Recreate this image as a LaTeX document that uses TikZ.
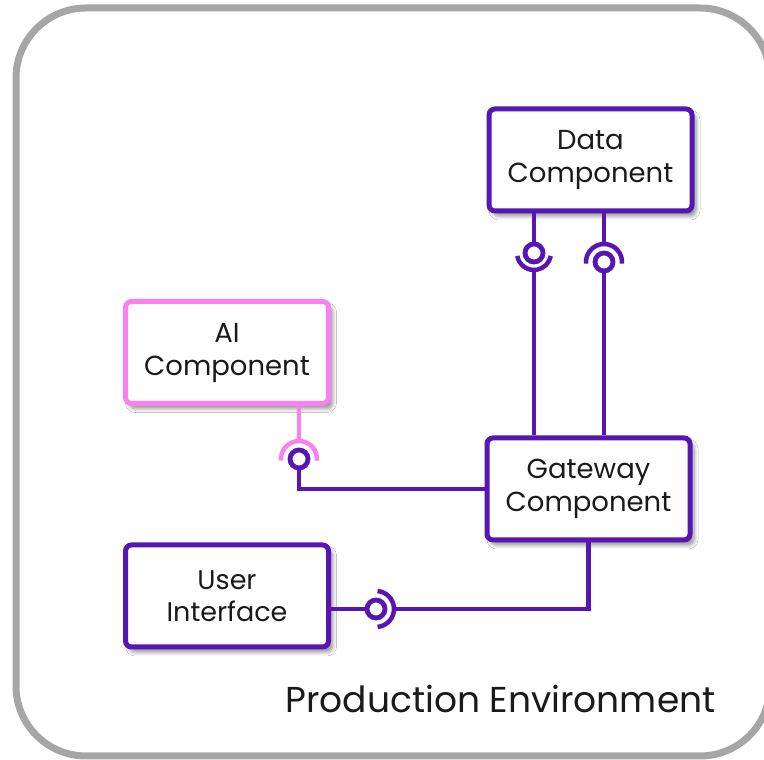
\documentclass[tikz,border=0pt]{standalone}
\usepackage{fontspec}
\setmainfont{Poppins}
\usetikzlibrary{shadows.blur}
\definecolor{compviolet}{HTML}{5716B4}
\definecolor{aipink}{HTML}{F880F0}
\definecolor{framegray}{HTML}{A6A6A6}
\definecolor{inktext}{HTML}{1A1A1A}
\begin{document}
\begin{tikzpicture}[x=1pt,y=1pt,
  component/.style={draw=compviolet, line width=5pt, fill=white, rounded corners=6pt,
    minimum width=203pt, minimum height=102pt, align=center, text=inktext,
    font=\fontsize{27.5}{33}\selectfont,
    blur shadow={shadow xshift=4pt, shadow yshift=-5pt, shadow blur steps=8, shadow opacity=45, shadow blur radius=4pt}},
  aicomp/.style={component, draw=aipink},
  wire/.style={draw=compviolet, line width=4.5pt},
  aiwire/.style={draw=aipink, line width=4.5pt},
  ball/.style={draw=compviolet, line width=4.8pt, fill=white},
]
\useasboundingbox (0,0) rectangle (764,760);
\fill[white] (0,0) rectangle (764,760);

% environment frame (runs past the right edge)
\draw[framegray, line width=7pt, rounded corners=70pt] (16,4) rectangle (770,752);
\node[anchor=base east, font=\fontsize{36}{44}\selectfont, text=inktext] (envlabel) at (719,47) {Production Environment};

% components
\node[component] (data) at (590.5,600) {Data\\Component};
\node[aicomp] (ai) at (227,407.5) {AI\\Component};
\node[component] (gw) at (588.5,271) {Gateway\\Component};
\node[component, font=\fontsize{27}{32}\selectfont] (ui) at (227,164) {User\\Interface};

% interface points
\coordinate (b1) at (534,507);
\coordinate (b2) at (604,498);
\coordinate (b3) at (299,301);
\coordinate (b4) at (376,151);

% Data -> Gateway, left link: ball on Data side, socket on Gateway side
\draw[wire] (data.south -| b1) -- ([yshift=9pt]b1);
\draw[wire] ([yshift=-17pt]b1) -- (gw.north -| b1);
\draw[wire] ([shift={(190:17pt)}]b1) arc[start angle=190, end angle=350, radius=17pt];
\draw[ball] (b1) circle[radius=9pt];

% Data -> Gateway, right link: socket on Data side, ball on Gateway side
\draw[wire] (data.south -| b2) -- ([yshift=18pt]b2);
\draw[wire] ([yshift=-9pt]b2) -- (gw.north -| b2);
\draw[wire] ([shift={(-5:18pt)}]b2) arc[start angle=-5, end angle=185, radius=18pt];
\draw[ball] (b2) circle[radius=9pt];

% AI -> Gateway
\draw[aiwire] (ai.south -| b3) -- ([yshift=18pt]b3);
\draw[aiwire] ([shift={(-5:18pt)}]b3) arc[start angle=-5, end angle=185, radius=18pt];
\draw[wire] ([yshift=-9pt]b3) |- (gw.west);
\draw[ball] (b3) circle[radius=9pt];

% User Interface -> Gateway
\draw[wire] (ui.east |- b4) -- ([xshift=-9pt]b4);
\draw[wire] ([shift={(-85:18pt)}]b4) arc[start angle=-85, end angle=85, radius=18pt];
\draw[wire] ([xshift=18pt]b4) -| (gw.south);
\draw[ball] (b4) circle[radius=9pt];
\end{tikzpicture}
\end{document}
